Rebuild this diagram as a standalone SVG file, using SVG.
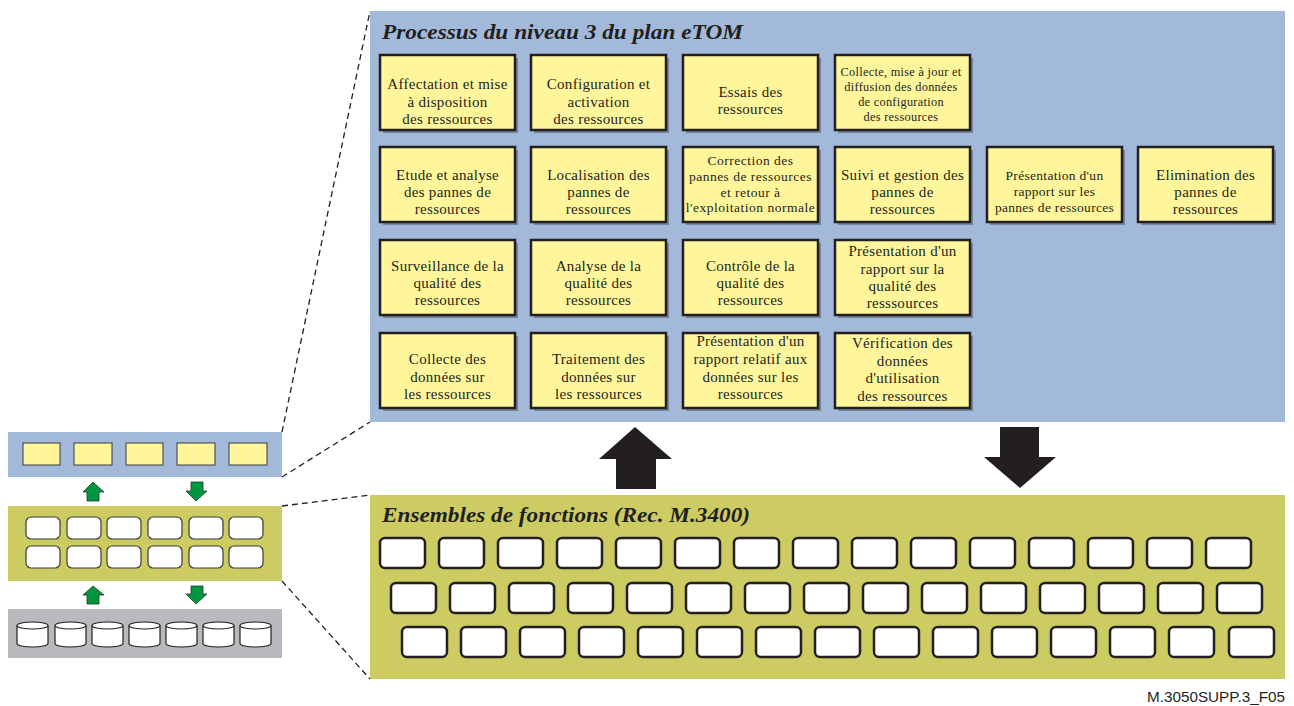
<svg xmlns="http://www.w3.org/2000/svg" width="1294" height="706" viewBox="0 0 1294 706">
<style>
.bg{fill:#fff}
.blue{fill:#a3b9d9}
.olive{fill:#cdcc62}
.gray{fill:#b9babd}
.pshadow{fill:#3c4450;opacity:.45}
.pbox{fill:#fff69c;stroke:#231f20;stroke-width:2.5}
.ptext{font-family:"Liberation Serif",serif;font-size:15px;letter-spacing:.3px;fill:#231f20;text-anchor:middle}
.small{font-size:12.3px}
.mid{font-size:13.5px}
.wide{letter-spacing:.5px}
.title{font-family:"Liberation Serif",serif;font-size:21px;font-weight:bold;font-style:italic;fill:#231f20}
.key{fill:#fff;stroke:#231f20;stroke-width:2.5}
.mini{fill:#fff69c;stroke:#3a3a3a;stroke-width:1}
.minikey{fill:#fff;stroke:#3a3a3a;stroke-width:1.2}
.cyl{fill:#fff;stroke:#231f20;stroke-width:1.2}
.dash{fill:none;stroke:#231f20;stroke-width:1.3;stroke-dasharray:6 4}
.bigarrow{fill:#231f20}
.garrow{fill:#00963f;stroke:#1f3a22;stroke-width:.8}
.foot{font-family:"Liberation Sans",sans-serif;font-size:15px;fill:#231f20}
</style>
<defs>
<g id="kbkey"><rect class="key" x="0" y="0" width="45" height="30" rx="5"/></g>
<g id="minibox"><rect class="minikey" x="0" y="0" width="34" height="22" rx="5"/></g>
<g id="cylinder"><path class="cyl" d="M0,3.5 L0,21.5 A15.5,3.5 0 0 0 31,21.5 L31,3.5"/><ellipse class="cyl" cx="15.5" cy="3.5" rx="15.5" ry="3.5"/></g>
</defs>
<rect class="bg" x="0" y="0" width="1294" height="706"/>

<!-- Left overview -->
<g id="overview-etom">
<rect class="blue" x="8" y="432" width="274" height="45"/>
<rect class="mini" x="23" y="443" width="37" height="22"/>
<rect class="mini" x="74" y="443" width="38" height="22"/>
<rect class="mini" x="126" y="443" width="37" height="22"/>
<rect class="mini" x="177" y="443" width="38" height="22"/>
<rect class="mini" x="229" y="443" width="38" height="22"/>
</g>
<g id="overview-functions">
<rect class="olive" x="8" y="506" width="274" height="75"/>
<use href="#minibox" x="26" y="517"/><use href="#minibox" x="67" y="517"/><use href="#minibox" x="107" y="517"/><use href="#minibox" x="148" y="517"/><use href="#minibox" x="189" y="517"/><use href="#minibox" x="229" y="517"/>
<use href="#minibox" x="26" y="546"/><use href="#minibox" x="67" y="546"/><use href="#minibox" x="107" y="546"/><use href="#minibox" x="148" y="546"/><use href="#minibox" x="189" y="546"/><use href="#minibox" x="229" y="546"/>
</g>
<g id="overview-data">
<rect class="gray" x="8" y="609" width="274" height="49"/>
<use href="#cylinder" x="17" y="622"/><use href="#cylinder" x="55" y="622"/><use href="#cylinder" x="92" y="622"/><use href="#cylinder" x="129" y="622"/><use href="#cylinder" x="166" y="622"/><use href="#cylinder" x="203" y="622"/><use href="#cylinder" x="240" y="622"/>
</g>

<!-- Main panels -->
<g id="panel-etom">
<rect class="blue" x="370" y="11" width="915" height="411"/>
<text class="title" x="382" y="39" textLength="361" lengthAdjust="spacingAndGlyphs">Processus du niveau 3 du plan eTOM</text>
</g>
<g id="panel-functions">
<rect class="olive" x="370" y="495" width="915" height="184"/>
<text class="title" x="382" y="522" textLength="368" lengthAdjust="spacingAndGlyphs">Ensembles de fonctions (Rec. M.3400)</text>
<g id="keys-row1">
<use href="#kbkey" x="380" y="538"/><use href="#kbkey" x="439" y="538"/><use href="#kbkey" x="498" y="538"/><use href="#kbkey" x="557" y="538"/><use href="#kbkey" x="616" y="538"/><use href="#kbkey" x="675" y="538"/><use href="#kbkey" x="734" y="538"/><use href="#kbkey" x="793" y="538"/><use href="#kbkey" x="852" y="538"/><use href="#kbkey" x="911" y="538"/><use href="#kbkey" x="970" y="538"/><use href="#kbkey" x="1029" y="538"/><use href="#kbkey" x="1088" y="538"/><use href="#kbkey" x="1147" y="538"/><use href="#kbkey" x="1206" y="538"/>
</g>
<g id="keys-row2">
<use href="#kbkey" x="391" y="583"/><use href="#kbkey" x="450" y="583"/><use href="#kbkey" x="509" y="583"/><use href="#kbkey" x="568" y="583"/><use href="#kbkey" x="627" y="583"/><use href="#kbkey" x="686" y="583"/><use href="#kbkey" x="745" y="583"/><use href="#kbkey" x="804" y="583"/><use href="#kbkey" x="863" y="583"/><use href="#kbkey" x="922" y="583"/><use href="#kbkey" x="981" y="583"/><use href="#kbkey" x="1040" y="583"/><use href="#kbkey" x="1099" y="583"/><use href="#kbkey" x="1158" y="583"/><use href="#kbkey" x="1217" y="583"/>
</g>
<g id="keys-row3">
<use href="#kbkey" x="402" y="627"/><use href="#kbkey" x="461" y="627"/><use href="#kbkey" x="520" y="627"/><use href="#kbkey" x="579" y="627"/><use href="#kbkey" x="638" y="627"/><use href="#kbkey" x="697" y="627"/><use href="#kbkey" x="756" y="627"/><use href="#kbkey" x="815" y="627"/><use href="#kbkey" x="874" y="627"/><use href="#kbkey" x="933" y="627"/><use href="#kbkey" x="992" y="627"/><use href="#kbkey" x="1051" y="627"/><use href="#kbkey" x="1110" y="627"/><use href="#kbkey" x="1169" y="627"/><use href="#kbkey" x="1229" y="627"/>
</g>
</g>

<!-- Process boxes -->
<g id="p-r1c1"><rect class="pshadow" x="383" y="58" width="135" height="75"/><rect class="pbox" x="380" y="55" width="135" height="75"/>
<text class="ptext"><tspan x="447.5" y="89">Affectation et mise</tspan><tspan x="447.5" y="106.5">à disposition</tspan><tspan x="447.5" y="124">des ressources</tspan></text></g>
<g id="p-r1c2"><rect class="pshadow" x="534" y="58" width="135" height="75"/><rect class="pbox" x="531" y="55" width="135" height="75"/>
<text class="ptext"><tspan x="598.5" y="89">Configuration et</tspan><tspan x="598.5" y="106.5">activation</tspan><tspan x="598.5" y="124">des ressources</tspan></text></g>
<g id="p-r1c3"><rect class="pshadow" x="686" y="58" width="135" height="75"/><rect class="pbox" x="683" y="55" width="135" height="75"/>
<text class="ptext"><tspan x="750.5" y="97">Essais des</tspan><tspan x="750.5" y="114">ressources</tspan></text></g>
<g id="p-r1c4"><rect class="pshadow" x="838" y="58" width="135" height="75"/><rect class="pbox" x="835" y="55" width="135" height="75"/>
<text class="ptext small"><tspan x="901" y="76">Collecte, mise à jour et</tspan><tspan x="901" y="91">diffusion des données</tspan><tspan x="901" y="106">de configuration</tspan><tspan x="901" y="121">des ressources</tspan></text></g>

<g id="p-r2c1"><rect class="pshadow" x="383" y="150" width="135" height="75"/><rect class="pbox" x="380" y="147" width="135" height="75"/>
<text class="ptext"><tspan x="447.5" y="180">Etude et analyse</tspan><tspan x="447.5" y="197">des pannes de</tspan><tspan x="447.5" y="214">ressources</tspan></text></g>
<g id="p-r2c2"><rect class="pshadow" x="534" y="150" width="135" height="75"/><rect class="pbox" x="531" y="147" width="135" height="75"/>
<text class="ptext"><tspan x="598.5" y="180">Localisation des</tspan><tspan x="598.5" y="197">pannes de</tspan><tspan x="598.5" y="214">ressources</tspan></text></g>
<g id="p-r2c3"><rect class="pshadow" x="686" y="150" width="135" height="75"/><rect class="pbox" x="683" y="147" width="135" height="75"/>
<text class="ptext mid wide"><tspan x="750.5" y="165">Correction des</tspan><tspan x="750.5" y="181">pannes de ressources</tspan><tspan x="750.5" y="196.5">et retour à</tspan><tspan x="750.5" y="212">l'exploitation normale</tspan></text></g>
<g id="p-r2c4"><rect class="pshadow" x="838" y="150" width="135" height="75"/><rect class="pbox" x="835" y="147" width="135" height="75"/>
<text class="ptext"><tspan x="902.5" y="180">Suivi et gestion des</tspan><tspan x="902.5" y="197">pannes de</tspan><tspan x="902.5" y="214">ressources</tspan></text></g>
<g id="p-r2c5"><rect class="pshadow" x="990" y="150" width="135" height="75"/><rect class="pbox" x="987" y="147" width="135" height="75"/>
<text class="ptext mid"><tspan x="1054.5" y="180">Présentation d'un</tspan><tspan x="1054.5" y="196">rapport sur les</tspan><tspan x="1054.5" y="211.5">pannes de ressources</tspan></text></g>
<g id="p-r2c6"><rect class="pshadow" x="1141" y="150" width="135" height="75"/><rect class="pbox" x="1138" y="147" width="135" height="75"/>
<text class="ptext"><tspan x="1205.5" y="180">Elimination des</tspan><tspan x="1205.5" y="197">pannes de</tspan><tspan x="1205.5" y="214">ressources</tspan></text></g>

<g id="p-r3c1"><rect class="pshadow" x="383" y="243" width="135" height="75"/><rect class="pbox" x="380" y="240" width="135" height="75"/>
<text class="ptext"><tspan x="447.5" y="271">Surveillance de la</tspan><tspan x="447.5" y="288">qualité des</tspan><tspan x="447.5" y="305">ressources</tspan></text></g>
<g id="p-r3c2"><rect class="pshadow" x="534" y="243" width="135" height="75"/><rect class="pbox" x="531" y="240" width="135" height="75"/>
<text class="ptext"><tspan x="598.5" y="271">Analyse de la</tspan><tspan x="598.5" y="288">qualité des</tspan><tspan x="598.5" y="305">ressources</tspan></text></g>
<g id="p-r3c3"><rect class="pshadow" x="686" y="243" width="135" height="75"/><rect class="pbox" x="683" y="240" width="135" height="75"/>
<text class="ptext"><tspan x="750.5" y="271">Contrôle de la</tspan><tspan x="750.5" y="288">qualité des</tspan><tspan x="750.5" y="305">ressources</tspan></text></g>
<g id="p-r3c4"><rect class="pshadow" x="838" y="243" width="135" height="75"/><rect class="pbox" x="835" y="240" width="135" height="75"/>
<text class="ptext"><tspan x="902.5" y="256">Présentation d'un</tspan><tspan x="902.5" y="273.5">rapport sur la</tspan><tspan x="902.5" y="291">qualité des</tspan><tspan x="902.5" y="308">resssources</tspan></text></g>

<g id="p-r4c1"><rect class="pshadow" x="383" y="336" width="135" height="75"/><rect class="pbox" x="380" y="333" width="135" height="75"/>
<text class="ptext"><tspan x="447.5" y="364">Collecte des</tspan><tspan x="447.5" y="381.5">données sur</tspan><tspan x="447.5" y="399">les ressources</tspan></text></g>
<g id="p-r4c2"><rect class="pshadow" x="534" y="336" width="135" height="75"/><rect class="pbox" x="531" y="333" width="135" height="75"/>
<text class="ptext"><tspan x="598.5" y="364">Traitement des</tspan><tspan x="598.5" y="381.5">données sur</tspan><tspan x="598.5" y="399">les ressources</tspan></text></g>
<g id="p-r4c3"><rect class="pshadow" x="686" y="336" width="135" height="75"/><rect class="pbox" x="683" y="333" width="135" height="75"/>
<text class="ptext"><tspan x="750.5" y="346">Présentation d'un</tspan><tspan x="750.5" y="364">rapport relatif aux</tspan><tspan x="750.5" y="381.5">données sur les</tspan><tspan x="750.5" y="399">ressources</tspan></text></g>
<g id="p-r4c4"><rect class="pshadow" x="838" y="336" width="135" height="75"/><rect class="pbox" x="835" y="333" width="135" height="75"/>
<text class="ptext"><tspan x="902.5" y="348">Vérification des</tspan><tspan x="902.5" y="365.5">données</tspan><tspan x="902.5" y="383">d'utilisation</tspan><tspan x="902.5" y="401">des ressources</tspan></text></g>

<!-- Connectors -->
<g id="connectors">
<line class="dash" x1="282" y1="432" x2="370" y2="11"/>
<line class="dash" x1="282" y1="477" x2="370" y2="422"/>
<line class="dash" x1="282" y1="506" x2="370" y2="495"/>
<line class="dash" x1="282" y1="581" x2="370" y2="679"/>
<polygon class="bigarrow" points="635,427 672,459 656,459 656,489 616,489 616,459 599,459"/>
<polygon class="bigarrow" points="1000,427 1039,427 1039,457 1056,457 1020,488 984,457 1000,457"/>
<polygon class="garrow" points="93,482 104,492 99,492 99,501 87,501 87,492 83,492"/>
<polygon class="garrow" points="191,482 203,482 203,491 207,491 196,501 186,491 191,491"/>
<polygon class="garrow" points="93,586 104,595 99,595 99,604 87,604 87,595 83,595"/>
<polygon class="garrow" points="191,586 203,586 203,594 207,594 196,604 186,594 191,594"/>
</g>

<text class="foot" x="1147" y="702" textLength="138" lengthAdjust="spacingAndGlyphs">M.3050SUPP.3_F05</text>
</svg>
